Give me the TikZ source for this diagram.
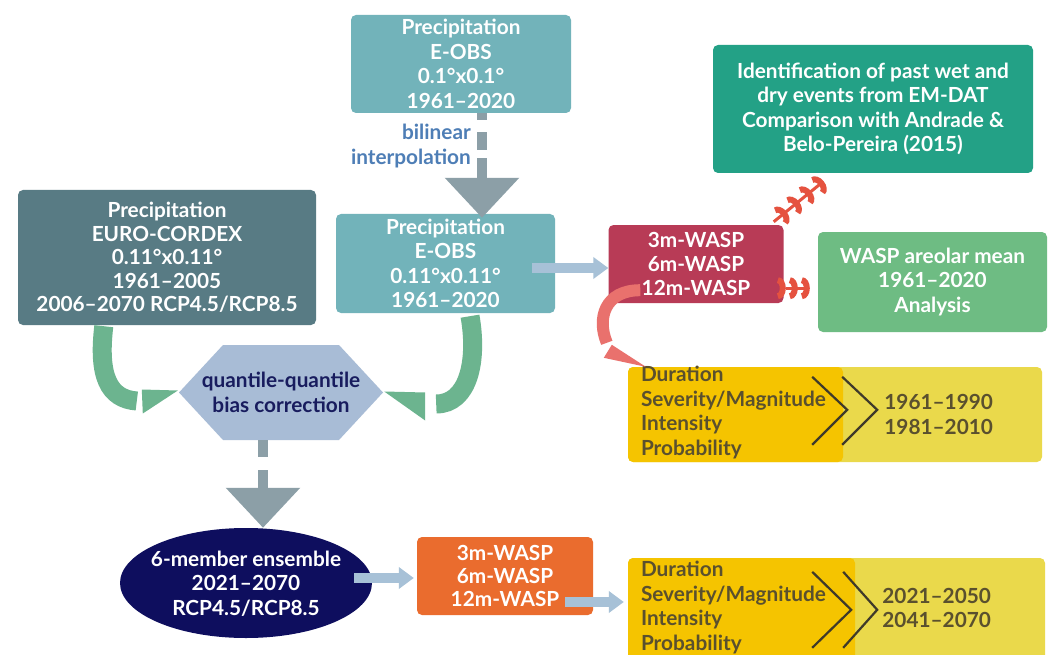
\documentclass[tikz,border=0pt]{standalone}
\usepackage{fontspec}
\setmainfont{Lato}
\usetikzlibrary{arrows.meta,calc,shapes.geometric}

\definecolor{eobsteal}{HTML}{72B3BA}
\definecolor{cordex}{HTML}{587B84}
\definecolor{hexfill}{HTML}{A8BCD6}
\definecolor{hextext}{HTML}{181C5E}
\definecolor{ensnavy}{HTML}{0E0E5E}
\definecolor{waspor}{HTML}{EA6C2E}
\definecolor{wasprd}{HTML}{B83B56}
\definecolor{emdat}{HTML}{23A186}
\definecolor{areol}{HTML}{6EBC83}
\definecolor{ydark}{HTML}{F5C400}
\definecolor{ylight}{HTML}{EAD94B}
\definecolor{ytext}{HTML}{5A502E}
\definecolor{chev}{HTML}{3F3A2A}
\definecolor{gbandc}{HTML}{6CB48F}
\definecolor{rbandc}{HTML}{E9716D}
\definecolor{fletch}{HTML}{E5523F}
\definecolor{greyarr}{HTML}{8C9FA7}
\definecolor{bluearr}{HTML}{A7C1D7}
\definecolor{interp}{HTML}{4E7EB6}

\newcommand\boxtxt{\fontsize{20.8}{24.5}\selectfont\bfseries}

\begin{document}
\begin{tikzpicture}[x=1pt,y=-1pt,
  box/.style={rounded corners=5pt, inner sep=0pt, align=center, text=white, font=\boxtxt},
  hexbox/.style={minimum width=204pt, minimum height=95pt, inner sep=0pt, align=center,
    text=hextext, font=\boxtxt,
    path picture={\fill[hexfill] (path picture bounding box.west)
      -- ($(path picture bounding box.north west)+(44,0)$)
      -- ($(path picture bounding box.north east)+(-44,0)$)
      -- (path picture bounding box.east)
      -- ($(path picture bounding box.south east)+(-44,0)$)
      -- ($(path picture bounding box.south west)+(44,0)$) -- cycle;}},
  ytxt/.style={inner sep=0pt, align=left, text=ytext, font=\boxtxt, anchor=west},
  chevron/.style={draw=chev, line width=2.2pt, line join=miter},
  greyarrow/.style={draw=greyarr, line width=10pt, -{Triangle[length=40pt,width=72pt]}},
  bluearrow/.style={draw=bluearr, line width=10pt, -{Triangle[length=15pt,width=21pt]}},
  fl/.tip={Arc Barb[length=8pt,width=22pt,line width=6pt,sep=8pt]},
  fletcharrow/.style={draw=fletch, line width=3pt},
  gband/.style={draw=gbandc, line width=19pt},
  rband/.style={draw=rbandc, line width=12pt}
]
\useasboundingbox (0,0) rectangle (1049,655);
\clip (0,0) rectangle (1049,655);
\fill[white] (0,0) rectangle (1049,655);

% data sources
\node[box, fill=eobsteal, minimum width=220pt, minimum height=98pt] (top) at (461,64)
  {Precipitation\\E-OBS\\0.1°x0.1°\\1961–2020};
\node[box, fill=eobsteal, minimum width=219pt, minimum height=99pt] (eobs) at (445.5,263.5)
  {Precipitation\\E-OBS\\0.11°x0.11°\\1961–2020};
\node[box, fill=cordex, minimum width=298pt, minimum height=135pt,
  font=\fontsize{20.8}{23.5}\selectfont\bfseries] (euro) at (167,257.5)
  {Precipitation\\EURO-CORDEX\\0.11°x0.11°\\1961–2005\\2006–2070 RCP4.5/RCP8.5};

% bias correction and ensemble
\node[hexbox] (hex) at (281,392.5) {quantile-quantile\\bias correction};
\node[ellipse, fill=ensnavy, minimum width=252pt, minimum height=110pt, inner sep=0pt] (ens) at (246,583) {};
\node[inner sep=0pt, align=center, text=white, font=\boxtxt] (enstxt) at ($(ens.center)+(0,0.5)$)
  {6-member ensemble\\2021–2070\\RCP4.5/RCP8.5};

% WASP indices
\node[box, fill=waspor, minimum width=176pt, minimum height=78pt,
  font=\fontsize{20.8}{23}\selectfont\bfseries] (wo) at (505,576) {3m-WASP\\6m-WASP\\12m-WASP};
\node[box, fill=wasprd, minimum width=175pt, minimum height=78pt,
  font=\fontsize{20.8}{24}\selectfont\bfseries] (wr) at (696,264) {3m-WASP\\6m-WASP\\12m-WASP};

% analyses
\node[box, fill=emdat, minimum width=320pt, minimum height=128pt] (em) at (873,109)
  {Identification of past wet and\\dry events from EM-DAT\\Comparison with Andrade \&\\Belo-Pereira (2015)};
\node[box, fill=areol, minimum width=229pt, minimum height=100pt] (ar) at (932.5,282)
  {WASP areolar mean\\1961–2020\\Analysis};

% characteristics panels
\node[fill=ylight, rounded corners=5pt, minimum width=414pt, minimum height=95pt, inner sep=0pt] (y1) at (835,414.5) {};
\node[fill=ydark, rounded corners=5pt, minimum width=215pt, minimum height=95pt, inner sep=0pt] (y1in) at (735.5,414.5) {};
\node[ytxt] (y1l) at ($(y1in.west)+(13,-2)$) {Duration\\Severity/Magnitude\\Intensity\\Probability};
\node[ytxt] (y1r) at ($(y1in.east)+(41,0)$) {1961–1990\\1981–2010};
\draw[chevron] ($(y1in.north east)+(-31,10)$) -- ($(y1in.north east)+(4,43)$) -- ($(y1in.north east)+(-31,78)$);
\draw[chevron] ($(y1in.north east)+(-1,10)$) -- ($(y1in.north east)+(34,43)$) -- ($(y1in.north east)+(-1,78)$);

\node[fill=ylight, rounded corners=5pt, minimum width=417pt, minimum height=104pt, inner sep=0pt] (y2) at (836.5,610) {};
\node[fill=ydark, rounded corners=5pt, minimum width=227pt, minimum height=104pt, inner sep=0pt] (y2in) at (741.5,610) {};
\node[ytxt] (y2l) at ($(y2in.west)+(13,-2.5)$) {Duration\\Severity/Magnitude\\Intensity\\Probability};
\node[ytxt] (y2r) at ($(y2in.east)+(27,-2)$) {2021–2050\\2041–2070};
\draw[chevron] ($(y2in.north east)+(-43,14)$) -- ($(y2in.north east)+(-4,52)$) -- ($(y2in.north east)+(-43,90)$);
\draw[chevron] ($(y2in.north east)+(-12,14)$) -- ($(y2in.north east)+(22,52)$) -- ($(y2in.north east)+(-12,90)$);

% regridding
\node[inner sep=0pt, align=right, anchor=east, text=interp, font=\boxtxt] (bil) at (471,146)
  {bilinear\\interpolation};
\coordinate (g1) at ($(top.south)+(21,0)$);
\draw[greyarrow, dash pattern=on 7pt off 12pt on 18pt off 8pt on 40pt off 1pt]
  (g1) -- ($(g1 |- eobs.north)+(0,4)$);

% bias-correction inputs
\draw[gband] ($(euro.south west)+(86,1)$) .. controls +(-6,50) and +(-28,-2) .. ($(hex.west)+(-42,8.5)$);
\fill[gbandc] ($(hex.west)+(-37,-3)$) -- ($(hex.west)+(-1,-2)$) -- ($(hex.west)+(-36,21)$) -- cycle;
\draw[gband] ($(eobs.south)+(24.5,3)$) .. controls +(8,45) and +(32,0) .. ($(hex.east)+(53,11.5)$);
\fill[gbandc] ($(hex.east)+(42,0)$) -- ($(hex.east)+(1,-1)$) -- ($(hex.east)+(42,28)$) -- cycle;

\coordinate (g2) at ($(hex.south)+(-18,0)$);
\draw[greyarrow, dash pattern=on 17pt off 13pt on 40pt off 1pt] (g2) -- ($(g2 |- ens.north)+(0,0)$);

% index computation
\coordinate (b1) at ($(eobs.east)+(-23,4.5)$);
\draw[bluearrow] (b1) -- (b1 -| wr.west);
\coordinate (b2) at ($(ens.east)+(-18,-5)$);
\draw[bluearrow, shorten >=3pt] (b2) -- (b2 -| wo.west);
\coordinate (b3) at ($(wo.east)+(-28,26)$);
\draw[bluearrow, shorten >=4pt] (b3) -- (b3 -| y2.west);

% historical analyses
\draw[fletcharrow, -{fl[]fl[]fl[]fl[]}] ($(wr.north east)+(-10,-3)$) -- ($(em.south west)+(117,3)$);
\coordinate (f2) at ($(wr.south east)+(2,-15)$);
\draw[fletcharrow, -{fl[sep=4pt]fl[sep=4pt]fl[]}] (f2) -- (f2 -| ar.west);

\draw[rband] ($(wr.south west)+(32,-13)$) .. controls +(-36,0) and +(-10,-24) .. ($(y1.north west)+(-21,-24)$);
\fill[rbandc] ($(y1.north west)+(-16,-22)$) -- ($(y1.north west)+(18,0)$) -- ($(y1.north west)+(-24,-9)$) -- cycle;
\end{tikzpicture}
\end{document}
